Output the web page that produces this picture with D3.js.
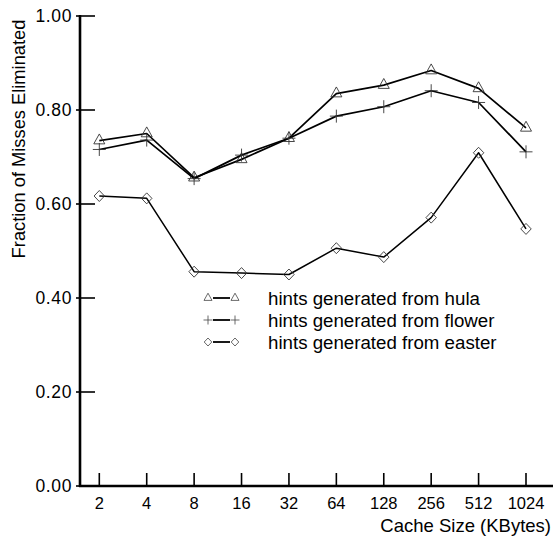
<!DOCTYPE html>
<html>
<head>
<meta charset="utf-8">
<script src="https://cdn.jsdelivr.net/npm/d3@7/dist/d3.min.js"></script>
<style>
  html, body { margin: 0; padding: 0; background: #fff; }
  svg { display: block; }
  text { font-family: "Liberation Sans", Arial, Helvetica, sans-serif; fill: #000; }
</style>
</head>
<body>
<svg id="chart" width="553" height="538"></svg>
<script>
// Cache sizes (KBytes) along the x axis
const cacheSizes = ["2", "4", "8", "16", "32", "64", "128", "256", "512", "1024"];

// Fraction of misses eliminated, per hint source
const hulaValues   = [0.735, 0.750, 0.656, 0.695, 0.740, 0.835, 0.853, 0.884, 0.846, 0.762];
const flowerValues = [0.716, 0.736, 0.654, 0.704, 0.740, 0.787, 0.807, 0.841, 0.816, 0.711];
const easterValues = [0.617, 0.612, 0.456, 0.453, 0.450, 0.506, 0.487, 0.571, 0.709, 0.547];

const yTickValues = [0, 0.2, 0.4, 0.6, 0.8, 1.0];

const seriesNames = ["hints generated from hula", "hints generated from flower", "hints generated from easter"];

const svg = d3.select("#chart");

const x = d3.scalePoint().domain(cacheSizes).range([99.3, 526]).padding(0);
const y = d3.scaleLinear().domain([0, 1]).range([486, 16]);

const axisX0 = 80;
const axisY0 = y(0);

// Marker shapes
function trianglePath(s) {
  const h = s * 0.9;
  return `M0,${-h * 2 / 3}L${s / 2},${h / 3}L${-s / 2},${h / 3}Z`;
}
function plusPath(s) {
  const r = s / 2;
  return `M${-r},0H${r}M0,${-r}V${r}`;
}
function diamondPath(s) {
  const r = s / 2;
  return `M0,${-r}L${r * 0.95},0L0,${r}L${-r * 0.95},0Z`;
}

const series = [
  { name: seriesNames[0], values: hulaValues,   marker: trianglePath, size: 11, legendSize: 8, width: 1.7 },
  { name: seriesNames[1], values: flowerValues, marker: plusPath,     size: 13, legendSize: 9, width: 1.7 },
  { name: seriesNames[2], values: easterValues, marker: diamondPath,  size: 11, legendSize: 8, width: 1.5 }
];

// Axes
svg.append("line")
  .attr("x1", axisX0).attr("x2", axisX0)
  .attr("y1", y(1) - 1).attr("y2", axisY0 + 1)
  .attr("stroke", "#000").attr("stroke-width", 2.6);

svg.append("line")
  .attr("x1", axisX0 - 1).attr("x2", 553)
  .attr("y1", axisY0).attr("y2", axisY0)
  .attr("stroke", "#000").attr("stroke-width", 2.6);

// y ticks and labels
const yTicks = svg.append("g");
yTicks.selectAll("line").data(yTickValues).join("line")
  .attr("x1", axisX0 - 4).attr("x2", axisX0 + 15)
  .attr("y1", d => y(d)).attr("y2", d => y(d))
  .attr("stroke", "#000").attr("stroke-width", 1.6);
yTicks.selectAll("text").data(yTickValues).join("text")
  .attr("x", 72).attr("y", d => y(d))
  .attr("dy", "0.36em")
  .attr("text-anchor", "end")
  .attr("font-size", 17.5)
  .attr("letter-spacing", 0.6)
  .text(d => d3.format(".2f")(d));

// x ticks and labels
const xTicks = svg.append("g");
xTicks.selectAll("line").data(cacheSizes).join("line")
  .attr("x1", d => x(d)).attr("x2", d => x(d))
  .attr("y1", axisY0).attr("y2", axisY0 - 13)
  .attr("stroke", "#000").attr("stroke-width", 1.6);
xTicks.selectAll("text").data(cacheSizes).join("text")
  .attr("x", d => x(d)).attr("y", 509)
  .attr("text-anchor", "middle")
  .attr("font-size", 16.5)
  .text(d => d);

// Axis titles
svg.append("text")
  .attr("x", 551).attr("y", 532)
  .attr("text-anchor", "end")
  .attr("font-size", 18.5)
  .text("Cache Size (KBytes)");

svg.append("text")
  .attr("transform", `translate(25,139) rotate(-90)`)
  .attr("text-anchor", "middle")
  .attr("font-size", 18.3)
  .text("Fraction of Misses Eliminated");

// Series lines and markers
const line = d3.line().x((d, i) => x(cacheSizes[i])).y(d => y(d));

series.forEach(s => {
  svg.append("path")
    .datum(s.values)
    .attr("d", line)
    .attr("fill", "none")
    .attr("stroke", "#000")
    .attr("stroke-width", s.width)
    .attr("stroke-linejoin", "round");

  svg.append("g").selectAll("path").data(s.values).join("path")
    .attr("transform", (d, i) => `translate(${x(cacheSizes[i])},${y(d)})`)
    .attr("d", s.marker(s.size))
    .attr("fill", "none")
    .attr("stroke", "#333")
    .attr("stroke-width", 0.9);
});

// Legend
const legendRows = [298, 320, 342];
series.forEach((s, i) => {
  const g = svg.append("g").attr("transform", `translate(0,${legendRows[i]})`);
  g.append("line")
    .attr("x1", 213).attr("x2", 230).attr("y1", 0).attr("y2", 0)
    .attr("stroke", "#000").attr("stroke-width", 1.8);
  [208, 235].forEach(cx => {
    g.append("path")
      .attr("transform", `translate(${cx},0)`)
      .attr("d", s.marker(s.legendSize))
      .attr("fill", "none")
      .attr("stroke", "#444")
      .attr("stroke-width", 0.8);
  });
  g.append("text")
    .attr("x", 268).attr("y", 0).attr("dy", "0.35em")
    .attr("font-size", 18.7)
    .text(s.name);
});
</script>
</body>
</html>
